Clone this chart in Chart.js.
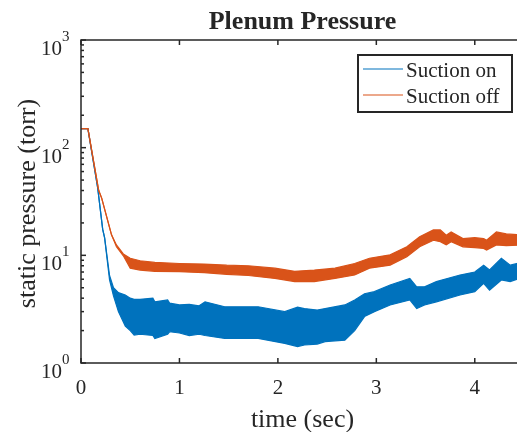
<!DOCTYPE html>
<html>
<head>
<meta charset="utf-8">
<script src="https://cdn.jsdelivr.net/npm/chart.js@4.4.1/dist/chart.umd.min.js"></script>
<style>
  html, body { margin: 0; padding: 0; overflow: hidden; background: #fff; }
  canvas { display: block; }
</style>
</head>
<body>
<canvas id="c" width="560" height="432"></canvas>
<script>
// ---- data (noise shown as upper / lower envelope) ----
const SERIES_LABELS = ['Suction on', 'Suction off'];

const TIME_ON = [0, 0.07, 0.17, 0.22, 0.24, 0.29, 0.33, 0.38, 0.45, 0.5, 0.54, 0.6, 0.73, 0.75, 0.88,
                 0.9, 1.0, 1.1, 1.2, 1.26, 1.46, 1.8, 2.07, 2.2, 2.27, 2.4, 2.48, 2.68, 2.78, 2.88,
                 2.98, 3.14, 3.34, 3.41, 3.49, 3.61, 3.85, 4.0, 4.09, 4.15, 4.27, 4.36, 4.5];
const ON_HIGH = [150, 150, 42, 17.5, 14.5, 6.5, 5.0, 4.5, 4.28, 4.0, 3.9, 3.9, 4.0, 3.7, 3.85,
                 3.6, 3.46, 3.5, 3.4, 3.7, 3.33, 3.33, 3.0, 3.3, 3.2, 3.1, 3.2, 3.46, 3.85, 4.4,
                 4.6, 5.3, 6.1, 5.1, 5.1, 5.7, 6.56, 7.0, 8.1, 7.3, 9.4, 8.1, 8.7];
const ON_LOW  = [150, 150, 42, 17.5, 14.5, 5.9, 4.2, 3.0, 2.2, 2.0, 1.82, 1.85, 1.8, 1.69, 1.85,
                 1.95, 1.9, 1.8, 1.85, 1.8, 1.69, 1.69, 1.52, 1.42, 1.47, 1.5, 1.58, 1.63, 2.0, 2.7,
                 3.0, 3.46, 3.85, 3.2, 3.46, 3.7, 4.28, 4.6, 5.5, 4.76, 5.9, 5.7, 6.3];

const TIME_OFF = [0, 0.07, 0.18, 0.21, 0.31, 0.36, 0.43, 0.5, 0.6, 0.75, 1.0, 1.25, 1.48, 1.7, 1.97,
                  2.17, 2.37, 2.58, 2.78, 2.93, 3.14, 3.31, 3.44, 3.58, 3.65, 3.71, 3.76, 3.88, 4.0,
                  4.09, 4.12, 4.22, 4.32, 4.5];
const OFF_HIGH = [150, 150, 40, 34, 15.5, 12.5, 10.3, 9.4, 8.9, 8.6, 8.4, 8.3, 8.1, 8.0, 7.6,
                  7.1, 7.3, 7.6, 8.4, 9.4, 10.1, 12.0, 14.9, 17.2, 17.2, 15.4, 16.5, 14.3, 14.6,
                  14.3, 13.8, 16.5, 15.8, 15.4];
const OFF_LOW  = [150, 150, 40, 34, 15.5, 12, 9.9, 7.6, 7.3, 7.1, 7.05, 6.9, 6.66, 6.5, 6.1,
                  5.7, 5.7, 6.1, 6.56, 7.6, 8.1, 9.7, 12.0, 13.8, 13.4, 12.5, 13.4, 12.0, 11.8,
                  11.6, 11.2, 12.5, 12.3, 12.5];

const X_TICKS = [0, 1, 2, 3, 4];
const Y_TICKS = [1, 10, 100, 1000];

const BLUE = '#0072BD';
const ORANGE = '#D95319';
const AXIS = '#262626';
const SERIF = "'Liberation Serif', 'Times New Roman', serif";

const pts = (xs, ys) => xs.map((x, i) => ({x, y: ys[i]}));

function band(label, color, xs, hi, lo) {
  const common = {borderColor: color, backgroundColor: color, borderWidth: 1.2,
                  pointRadius: 0, tension: 0};
  return [
    {...common, label, data: pts(xs, hi), fill: '+1'},
    {...common, label: label + ' low', data: pts(xs, lo), fill: false}
  ];
}

// axes box, inward ticks, tick labels, titles, legend (MATLAB look)
const matlabAxes = {
  id: 'matlabAxes',
  afterDatasetsDraw(chart) {
    const {ctx, chartArea: a, scales: {x, y}} = chart;
    const seg = (x1, y1, x2, y2) => { ctx.beginPath(); ctx.moveTo(x1, y1); ctx.lineTo(x2, y2); ctx.stroke(); };
    ctx.save();
    ctx.strokeStyle = AXIS;
    ctx.fillStyle = AXIS;
    ctx.lineWidth = 1.5;
    ctx.strokeRect(a.left, a.top, a.right - a.left, a.bottom - a.top);

    // x ticks + labels
    ctx.font = '21px ' + SERIF;
    ctx.textAlign = 'center';
    ctx.textBaseline = 'alphabetic';
    X_TICKS.forEach(v => {
      const px = x.getPixelForValue(v);
      seg(px, a.bottom, px, a.bottom - 5);
      seg(px, a.top, px, a.top + 5);
      ctx.fillText(String(v), px, a.bottom + 31);
    });

    // y ticks (major + minor) + labels 10^n
    Y_TICKS.forEach((v, i) => {
      const py = y.getPixelForValue(v);
      seg(a.left, py, a.left + 5, py);
      if (i < Y_TICKS.length - 1) {
        for (let m = 2; m <= 9; m++) {
          const pm = y.getPixelForValue(v * m);
          seg(a.left, pm, a.left + 3, pm);
        }
      }
      ctx.font = '21px ' + SERIF;
      ctx.textAlign = 'right';
      ctx.fillText('10', a.left - 19, py + 15);
      ctx.font = '15px ' + SERIF;
      ctx.textAlign = 'left';
      ctx.fillText(String(Math.round(Math.log10(v))), a.left - 19, py + 1);
    });

    const cx = (a.left + a.right) / 2;
    // title
    ctx.font = 'bold 26px ' + SERIF;
    ctx.textAlign = 'center';
    ctx.fillText('Plenum Pressure', cx, 29);
    // x label
    ctx.font = '26px ' + SERIF;
    ctx.fillText('time (sec)', cx, 427);
    // y label
    ctx.save();
    ctx.translate(35, (a.top + a.bottom) / 2 + 2);
    ctx.rotate(-Math.PI / 2);
    ctx.fillText('static pressure (torr)', 0, 0);
    ctx.restore();

    // legend box
    const lx = 358, ly = 55, lw = 154, lh = 57;
    ctx.fillStyle = '#fff';
    ctx.fillRect(lx, ly, lw, lh);
    ctx.lineWidth = 2;
    ctx.strokeRect(lx, ly, lw, lh);
    ctx.font = '21px ' + SERIF;
    ctx.textAlign = 'left';
    [BLUE, ORANGE].forEach((col, i) => {
      const yy = ly + 14 + i * 26;
      ctx.strokeStyle = col;
      ctx.lineWidth = 1.2;
      seg(lx + 5, yy, lx + 45, yy);
      ctx.fillStyle = AXIS;
      ctx.fillText(SERIES_LABELS[i], lx + 48, yy + 8);
    });
    ctx.restore();
  }
};

new Chart(document.getElementById('c'), {
  type: 'line',
  data: {
    datasets: [
      ...band(SERIES_LABELS[1], ORANGE, TIME_OFF, OFF_HIGH, OFF_LOW),
      ...band(SERIES_LABELS[0], BLUE, TIME_ON, ON_HIGH, ON_LOW)
    ]
  },
  options: {
    responsive: false,
    animation: false,
    layout: {padding: {left: 81, top: 40, right: 36, bottom: 69}},
    scales: {
      x: {type: 'linear', min: 0, max: 4.5, display: false},
      y: {type: 'logarithmic', min: 1, max: 1000, display: false}
    },
    plugins: {
      legend: {display: false},
      tooltip: {enabled: false},
      title: {display: false}
    }
  },
  plugins: [matlabAxes]
});
</script>
</body>
</html>
